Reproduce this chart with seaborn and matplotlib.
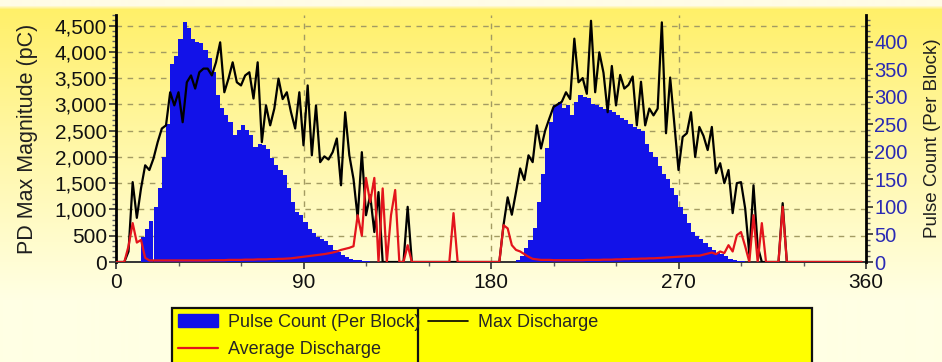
import numpy as np
import pandas as pd
import matplotlib
matplotlib.use("Agg")
import matplotlib.pyplot as plt
import seaborn as sns
from matplotlib.patches import Patch, Rectangle
from matplotlib.lines import Line2D
from matplotlib.ticker import MultipleLocator, FuncFormatter

# ---------------- data (2-degree phase blocks, 0..358) ----------------
phase_deg = list(range(0, 360, 2))

pulse_count = [
    0, 0, 0, 0, 0, 0, 45, 60, 75, 100,
    135, 190, 250, 360, 375, 405, 436, 425, 405, 400,
    398, 385, 370, 345, 304, 280, 267, 255, 231, 240,
    249, 240, 231, 209, 215, 212, 205, 189, 176, 168,
    158, 135, 109, 90, 85, 72, 60, 52, 45, 42,
    38, 30, 22, 18, 12, 9, 6, 4, 3, 2,
    1, 0, 0, 0, 0, 0, 0, 0, 0, 0,
    0, 0, 0, 0, 0, 0, 0, 0, 0, 0,
    0, 0, 0, 0, 0, 0, 0, 0, 0, 0,
    0, 0, 0, 0, 0, 0, 3, 10, 25, 40,
    62, 109, 160, 207, 255, 285, 291, 280, 285, 267,
    290, 304, 300, 298, 288, 285, 282, 278, 276, 272,
    268, 262, 258, 250, 245, 242, 238, 215, 200, 190,
    175, 160, 150, 135, 122, 100, 88, 70, 55, 48,
    42, 35, 27, 22, 17, 14, 10, 6, 4, 2,
    1, 0, 0, 0, 0, 0, 0, 0, 0, 0,
    0, 0, 0, 0, 0, 0, 0, 0, 0, 0,
    0, 0, 0, 0, 0, 0, 0, 0, 0, 0,
]

max_discharge = [
    0, 0, 0, 200, 1520, 840, 1400, 1840, 1750, 1970,
    2280, 2540, 2600, 3230, 2980, 3230, 2660, 3420, 3550, 3300,
    3610, 3680, 3680, 3550, 3800, 4180, 3230, 3490, 3800, 3420,
    3360, 3550, 3610, 3110, 3800, 2280, 2980, 2600, 2920, 3490,
    3100, 3230, 2850, 2540, 3230, 2220, 3360, 2030, 2980, 1900,
    2010, 1950, 2090, 2350, 1460, 2850, 2030, 1580, 840, 2090,
    890, 1270, 570, 1330, 0, 0, 0, 0, 0, 0,
    1050, 0, 0, 0, 0, 0, 0, 0, 0, 0,
    0, 0, 0, 0, 0, 0, 0, 0, 0, 0,
    0, 0, 0, 700, 1230, 900, 1330, 1780, 1560, 2030,
    1900, 2600, 2160, 2500, 2730, 2950, 3000, 3050, 3230, 3100,
    4250, 3420, 3500, 3200, 4590, 3230, 3990, 3600, 2850, 3730,
    2980, 3560, 3300, 3370, 3530, 2600, 3430, 2600, 2920, 2790,
    2920, 4560, 2450, 3510, 2640, 1750, 2380, 2450, 2850, 2000,
    2570, 2400, 2130, 2570, 1690, 1880, 1500, 1750, 930, 1500,
    1520, 1020, 150, 1460, 300, 0, 0, 0, 0, 0,
    1120, 0, 0, 0, 0, 0, 0, 0, 0, 0,
    0, 0, 0, 0, 0, 0, 0, 0, 0, 0,
]

avg_discharge = [
    0, 0, 0, 300, 740, 370, 420, 80, 30, 30,
    30, 30, 30, 30, 30, 30, 30, 30, 30, 30,
    30, 30, 30, 35, 35, 35, 35, 40, 40, 40,
    40, 45, 45, 45, 50, 50, 50, 55, 55, 60,
    60, 65, 70, 80, 90, 100, 110, 120, 130, 140,
    150, 165, 180, 200, 230, 250, 270, 300, 890, 500,
    1600, 1140, 1600, 0, 1400, 0, 890, 1370, 0, 0,
    320, 0, 0, 0, 0, 0, 0, 0, 0, 0,
    0, 930, 0, 0, 0, 0, 0, 0, 0, 0,
    0, 0, 0, 700, 640, 320, 230, 200, 150, 100,
    60, 50, 40, 40, 40, 35, 35, 35, 35, 35,
    35, 35, 35, 40, 40, 40, 40, 45, 45, 45,
    50, 50, 55, 55, 60, 60, 65, 65, 70, 70,
    75, 80, 85, 90, 95, 100, 105, 110, 115, 120,
    120, 140, 160, 180, 150, 200, 170, 320, 200, 510,
    570, 300, 0, 890, 0, 740, 0, 0, 0, 0,
    1050, 0, 0, 0, 0, 0, 0, 0, 0, 0,
    0, 0, 0, 0, 0, 0, 0, 0, 0, 0,
]

x_ticks = [0, 90, 180, 270, 360]
left_ticks = [0, 500, 1000, 1500, 2000, 2500, 3000, 3500, 4000, 4500]
right_ticks = [0, 50, 100, 150, 200, 250, 300, 350, 400]

left_label = "PD Max Magnitude (pC)"
right_label = "Pulse Count (Per Block)"
legend_labels = ["Pulse Count (Per Block)", "Average Discharge", "Max Discharge"]

# ---------------- style ----------------
BLUE = "#1212E8"
RED = "#E3141C"
BLACK = "#000000"
GRID = "#A39B62"
RIGHT_TICK = "#2A2AB4"

sns.set_theme(style="ticks")
plt.rcParams["font.family"] = ["Liberation Sans", "DejaVu Sans"]

W, H = 942, 362
fig = plt.figure(figsize=(W / 100, H / 100), dpi=100)
fig.patch.set_facecolor("#FFFFE8")

# background gradient (whole picture)
bg = fig.add_axes([0, 0, 1, 1], zorder=-10)
rows = np.arange(H)
r = np.full(H, 1.0)
g = np.interp(rows, [0, 5, 9, 300, H], [252, 252, 240, 255, 255]) / 255
b = np.interp(rows, [0, 5, 9, 140, 300, H], [230, 230, 105, 165, 228, 228]) / 255
grad = np.stack([r, g, b], axis=1)[:, None, :]
bg.imshow(grad, aspect="auto", extent=[0, 1, 0, 1], interpolation="bilinear")
bg.set_axis_off()

L, R, T, B = 116, 866, 15, 262
pos = [L / W, 1 - B / H, (R - L) / W, (B - T) / H]
ax = fig.add_axes(pos, zorder=0)
ax.patch.set_visible(False)
ax2 = ax.twinx()
ax2.set_zorder(1)
ax2.patch.set_visible(False)
ax3 = fig.add_axes(pos, sharex=ax, sharey=ax, zorder=2)

# bars: pulse count on right axis
edges = phase_deg + [360]
df = pd.DataFrame({"phase": [p + 1 for p in phase_deg], "count": pulse_count})
sns.histplot(data=df, x="phase", weights="count", bins=edges, ax=ax2,
             color=BLUE, alpha=1.0, linewidth=0, edgecolor=BLUE)

# lines on left-axis scale
dfl = pd.DataFrame({"phase": phase_deg, "maxd": max_discharge, "avgd": avg_discharge})
sns.lineplot(data=dfl, x="phase", y="maxd", ax=ax3, color=BLACK, linewidth=1.6)
sns.lineplot(data=dfl, x="phase", y="avgd", ax=ax3, color=RED, linewidth=1.6)
ax3.set_axis_off()

# axes limits / ticks
ax.set_xlim(0, 360)
ax.set_ylim(0, 4700)
ax2.set_ylim(0, 449)
ax.set_xticks(x_ticks)
ax.set_xticklabels([str(v) for v in x_ticks])
ax.xaxis.set_minor_locator(MultipleLocator(30))
ax.set_yticks(left_ticks)
ax.yaxis.set_major_formatter(FuncFormatter(lambda v, p: f"{v:,.0f}"))
ax.yaxis.set_minor_locator(MultipleLocator(100))
ax2.set_yticks(right_ticks)
ax2.yaxis.set_minor_locator(MultipleLocator(10))

ax.tick_params(axis="y", which="major", direction="out", length=5, width=1.2,
               labelsize=15, colors="#303030", labelcolor="#111111", pad=1.5)
ax.tick_params(axis="x", which="major", direction="out", length=5, width=1.2,
               labelsize=15, colors="#303030", labelcolor="#111111", pad=3)
ax.tick_params(axis="both", which="minor", direction="out", length=3, width=1.0,
               colors="#606060")
ax2.tick_params(axis="y", which="major", direction="out", length=5, width=1.2,
                labelsize=14.5, colors="#303030", labelcolor=RIGHT_TICK, pad=1)
ax2.tick_params(axis="y", which="minor", direction="out", length=3, width=1.0,
                colors="#606060")

ax.grid(True, which="major", axis="both", color=GRID, linestyle=(0, (4, 4)), linewidth=1.0)

for s in ["top", "right"]:
    ax.spines[s].set_visible(False)
for s in ["top", "left", "bottom"]:
    ax2.spines[s].set_visible(False)
ax.spines["left"].set_linewidth(2.0)
ax.spines["left"].set_color(BLACK)
ax.spines["bottom"].set_linewidth(1.4)
ax.spines["bottom"].set_color("#333333")
ax2.spines["right"].set_linewidth(2.0)
ax2.spines["right"].set_color(BLACK)

ax.set_xlabel("")
ax.set_ylabel(left_label, fontsize=15.5, color="#202020")
ax.yaxis.set_label_coords(-0.104, 0.5)
ax2.set_ylabel(right_label, fontsize=13.5, color="#202020")
ax2.yaxis.set_label_coords(1.0775, 0.5)

# legend box
lx0, lx1, ly0, ldiv = 172, 812, 308, 418
fig.add_artist(Rectangle((lx0 / W, -0.05), (lx1 - lx0) / W, (H - ly0) / H + 0.05,
                         transform=fig.transFigure, facecolor="#FFFF00",
                         edgecolor="#111111", linewidth=1.6, zorder=3))
fig.add_artist(Line2D([ldiv / W, ldiv / W], [0, 1 - ly0 / H], transform=fig.transFigure,
                      color="#111111", linewidth=1.6, zorder=4))
handles = [Patch(facecolor=BLUE, edgecolor=BLUE),
           Line2D([], [], color=RED, linewidth=1.6),
           Line2D([], [], color=BLACK, linewidth=1.2)]
fig.legend(handles, legend_labels, ncol=2, loc="upper left",
           bbox_to_anchor=(178 / W, 1 - 314 / H), bbox_transform=fig.transFigure,
           frameon=False, fontsize=13, handlelength=2.2, handletextpad=0.55,
           columnspacing=0.45, labelspacing=0.55, borderaxespad=0, borderpad=0)

fig.savefig("out.png", dpi=100, facecolor=fig.get_facecolor())
